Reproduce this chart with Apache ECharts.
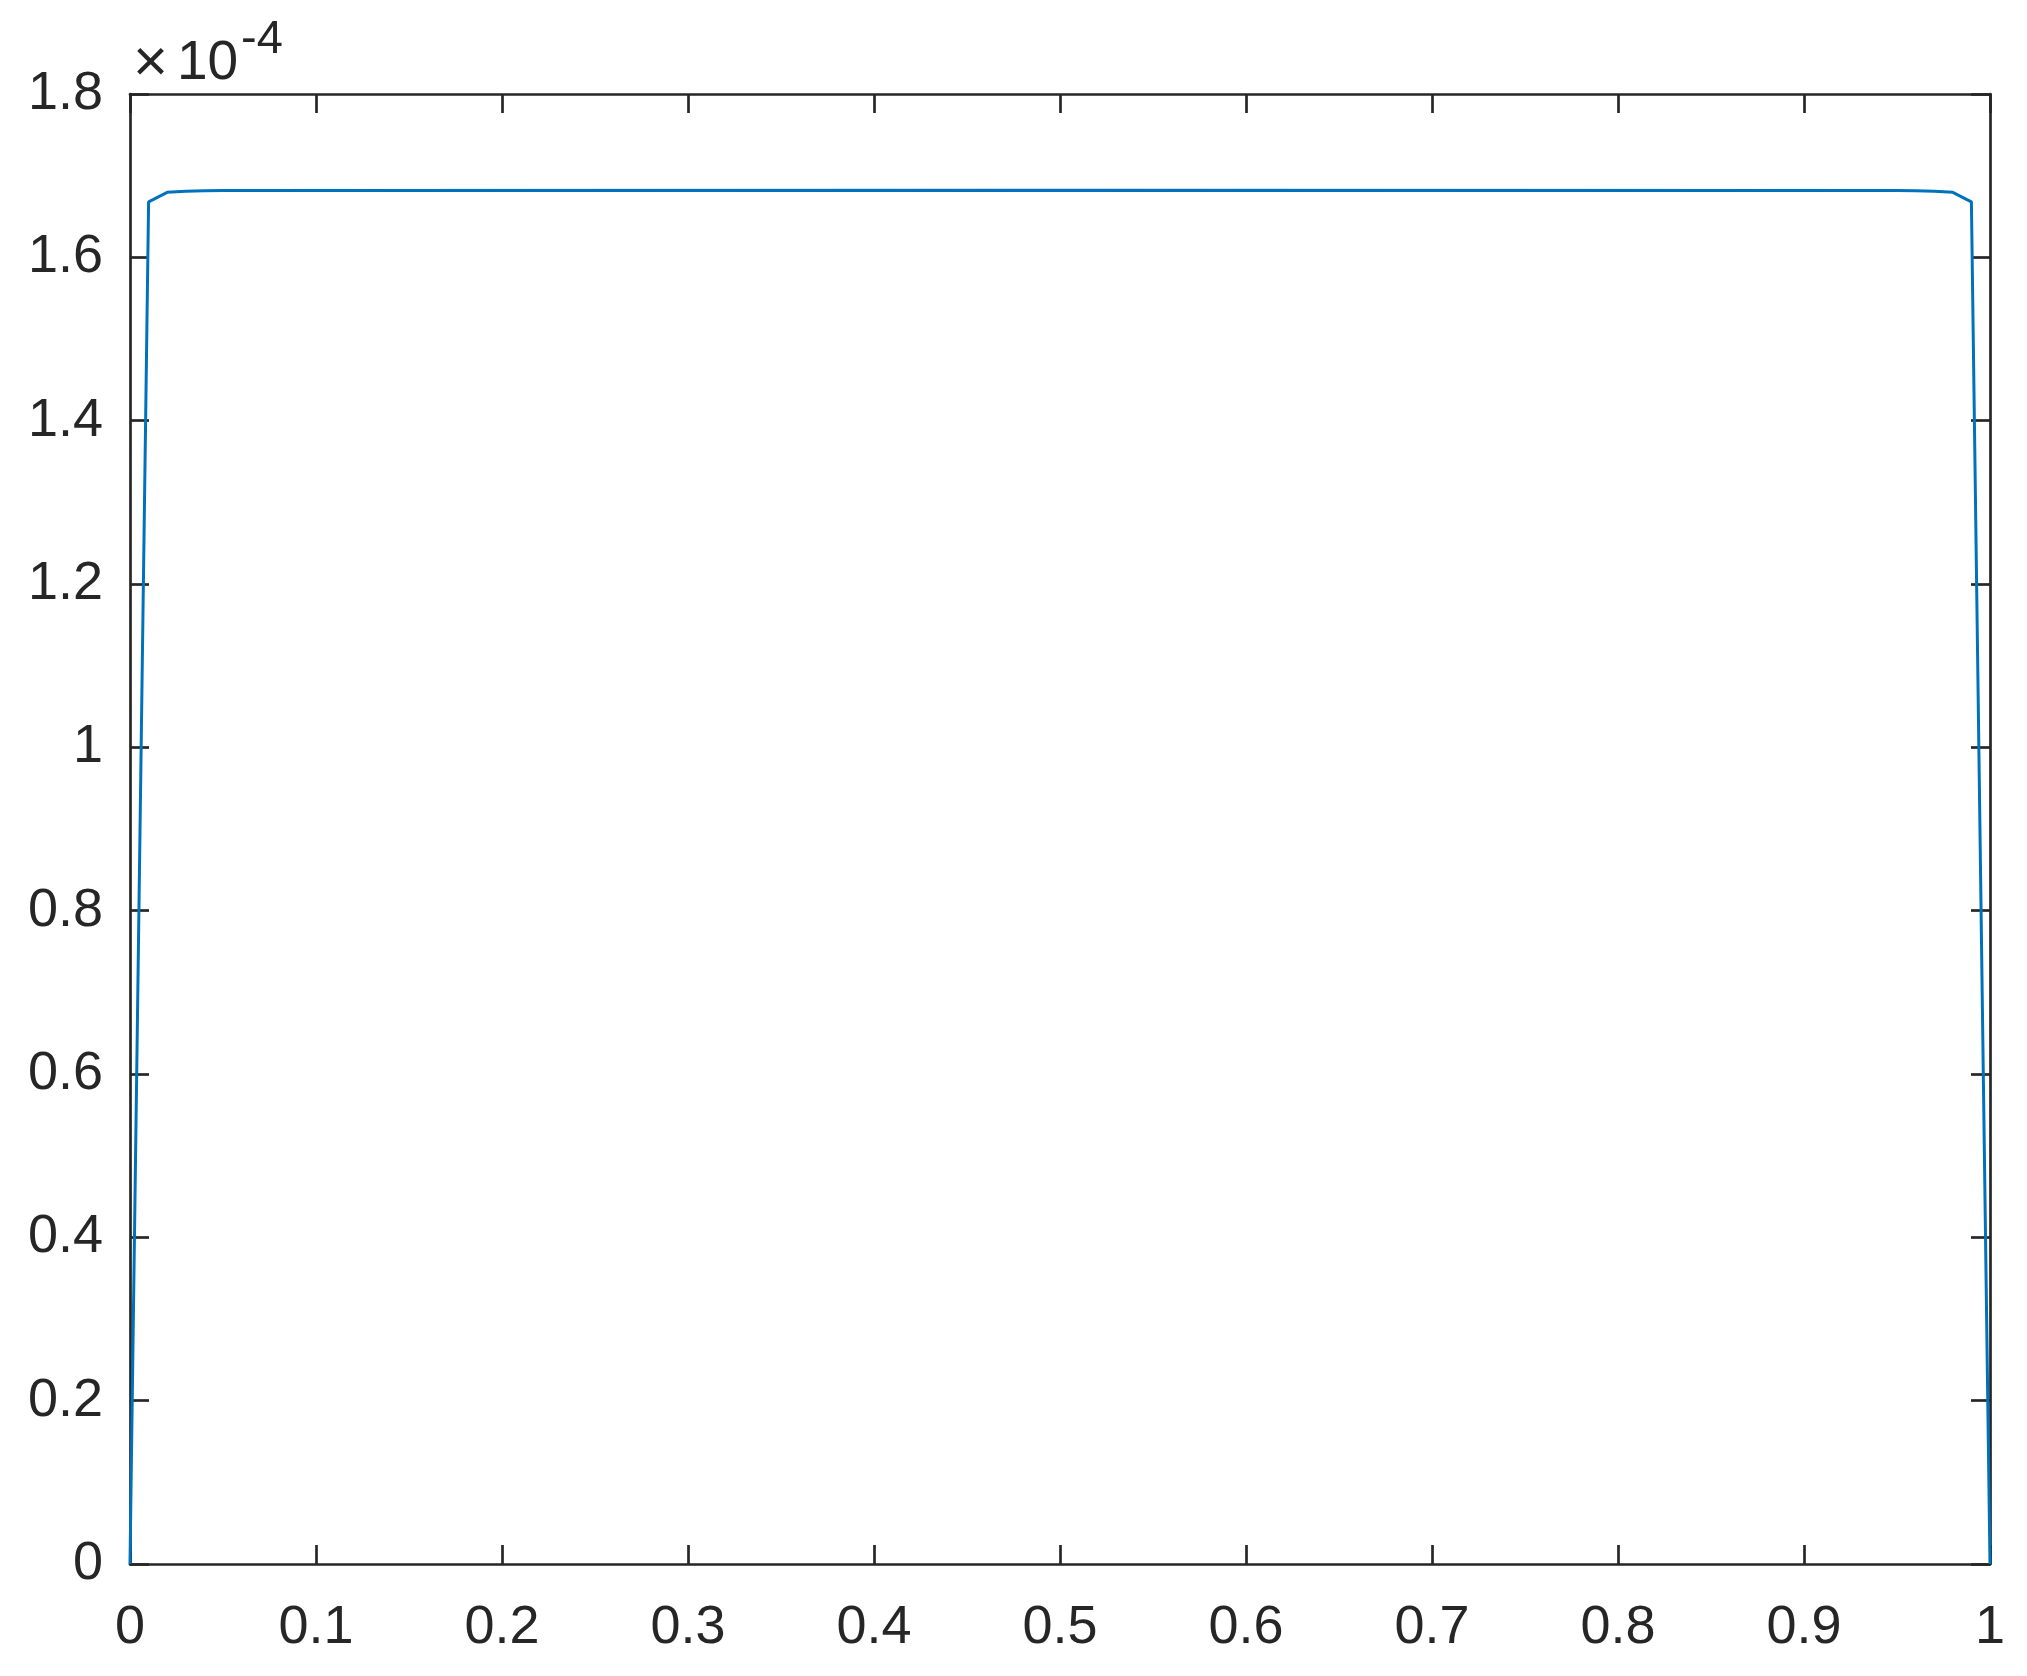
<!DOCTYPE html>
<html>
<head>
<meta charset="utf-8">
<script src="https://cdn.jsdelivr.net/npm/echarts@6/dist/echarts.min.js"></script>
<style>
  html, body { margin: 0; padding: 0; background: #fff; }
  #chart { width: 2027px; height: 1676px; }
</style>
</head>
<body>
<div id="chart"></div>
<script>
  // values in units of 1e-4 (see exponent label)
  const xValues = [0, 0.01, 0.02, 0.03, 0.04, 0.05, 0.5, 0.95, 0.96, 0.97, 0.98, 0.99, 1]
  const yValues = [0, 1.668, 1.6796, 1.6808, 1.6814, 1.6818, 1.682, 1.6818, 1.6814, 1.6808, 1.6796, 1.668, 0]
  const xTicks = [0, 0.1, 0.2, 0.3, 0.4, 0.5, 0.6, 0.7, 0.8, 0.9, 1]
  const yTicks = [0, 0.2, 0.4, 0.6, 0.8, 1, 1.2, 1.4, 1.6, 1.8]
  const exponent = '-4'

  const ink = '#262626'
  const font = '"Liberation Sans", Arial, Helvetica, sans-serif'

  const chart = echarts.init(document.getElementById('chart'))

  const axisCommon = {
    type: 'value',
    axisLine: { show: true, onZero: false, lineStyle: { color: ink, width: 2.7 } },
    axisTick: { show: true, inside: true, length: 19, lineStyle: { color: ink, width: 2.7 } },
    splitLine: { show: false }
  }

  const option = {
    animation: false,
    backgroundColor: '#fff',
    grid: { left: 130, right: 37, top: 94, bottom: 112, containLabel: false },
    xAxis: [
      Object.assign({}, axisCommon, {
        position: 'bottom',
        min: xTicks[0],
        max: xTicks[xTicks.length - 1],
        interval: 0.1,
        axisLabel: {
          color: ink, fontSize: 54, fontFamily: font, margin: 37,
          formatter: v => String(+v.toFixed(1))
        }
      }),
      Object.assign({}, axisCommon, {
        position: 'top',
        min: xTicks[0],
        max: xTicks[xTicks.length - 1],
        interval: 0.1,
        axisLabel: { show: false }
      })
    ],
    yAxis: [
      Object.assign({}, axisCommon, {
        position: 'left',
        min: yTicks[0],
        max: yTicks[yTicks.length - 1],
        interval: 0.2,
        axisLabel: {
          color: ink, fontSize: 54, fontFamily: font, margin: 27,
          formatter: v => String(+v.toFixed(1))
        }
      }),
      Object.assign({}, axisCommon, {
        position: 'right',
        min: yTicks[0],
        max: yTicks[yTicks.length - 1],
        interval: 0.2,
        axisLabel: { show: false }
      })
    ],
    graphic: [
      {
        type: 'text', left: 133, top: 34,
        style: { text: '×', font: '60px ' + font, fill: ink }
      },
      {
        type: 'text', left: 177, top: 36,
        style: { text: '10', font: '55px ' + font, fill: ink }
      },
      {
        type: 'text', left: 241, top: 17,
        style: { text: exponent, font: '47px ' + font, fill: ink }
      }
    ],
    series: [
      {
        type: 'line',
        xAxisIndex: 0,
        yAxisIndex: 0,
        showSymbol: false,
        symbol: 'none',
        lineStyle: { color: '#0072BD', width: 3 },
        data: xValues.map((x, i) => [x, yValues[i]])
      }
    ]
  }

  chart.setOption(option)
</script>
</body>
</html>
